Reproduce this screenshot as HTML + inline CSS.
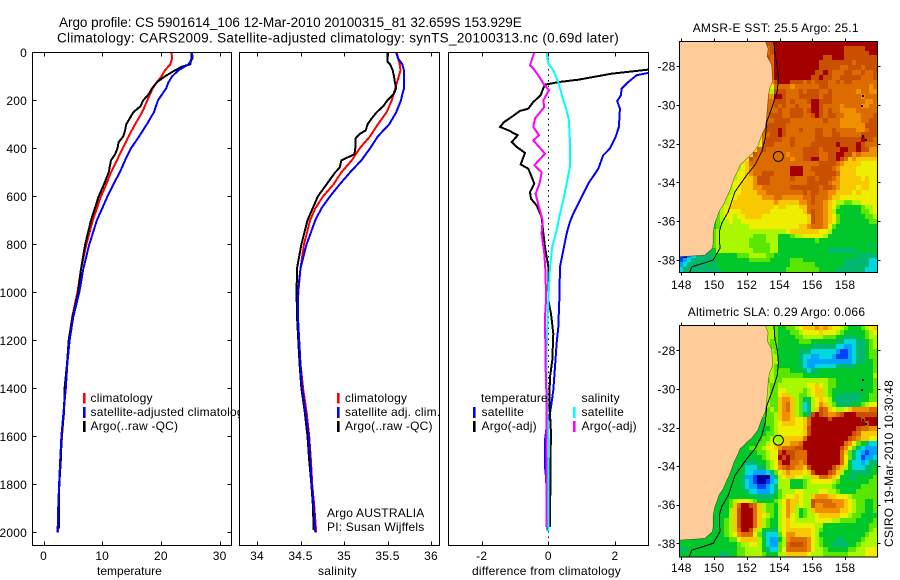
<!DOCTYPE html>
<html>
<head>
<meta charset="utf-8">
<title>Argo profile</title>
<style>
html,body{margin:0;padding:0;background:#fff;width:900px;height:580px;overflow:hidden}
svg{display:block}
text{font-family:"Liberation Sans",sans-serif;fill:#000;font-size:12px;letter-spacing:.2px}
.title{font-size:13.5px}
.maptitle{font-size:12px}
.lab{font-size:12px}
.frame{fill:none;stroke:#000;stroke-width:1;shape-rendering:crispEdges}
.tick{stroke:#000;stroke-width:1;shape-rendering:crispEdges}
.line{fill:none;shape-rendering:crispEdges;stroke-linejoin:miter}
</style>
</head>
<body>
<svg id="chart" xmlns="http://www.w3.org/2000/svg" width="900" height="580" viewBox="0 0 900 580">
<rect x="0" y="0" width="900" height="580" fill="#fff"/>
<text class="title" x="59" y="27" textLength="463" lengthAdjust="spacing">Argo profile: CS 5901614_106 12-Mar-2010 20100315_81 32.659S 153.929E</text>
<text class="title" x="57" y="42.5" textLength="562" lengthAdjust="spacing">Climatology: CARS2009. Satellite-adjusted climatology: synTS_20100313.nc (0.69d later)</text>

<g id="tempPanel"></g>
<g id="tempLegend">
<rect x="83" y="393" width="2.6" height="10.5" fill="#f00"/>
<rect x="83" y="407" width="2.6" height="11" fill="#00f"/>
<rect x="83" y="421" width="2.6" height="11" fill="#000"/>
<text x="90.5" y="402">climatology</text>
<text x="90.5" y="416">satellite-adjusted climatology</text>
<text x="90.5" y="430">Argo(..raw -QC)</text>
</g>

<rect x="239" y="50" width="203" height="500" fill="#fff"/>
<g id="salPanel"></g>
<g id="salLegend">
<rect x="337" y="393" width="2.6" height="10.5" fill="#f00"/>
<rect x="337" y="407" width="2.6" height="11" fill="#00f"/>
<rect x="337" y="421" width="2.6" height="11" fill="#000"/>
<text x="345" y="402">climatology</text>
<text x="345" y="416">satellite adj. clim.</text>
<text x="345" y="430">Argo(..raw -QC)</text>
<text x="327" y="517">Argo AUSTRALIA</text>
<text x="327" y="531">PI: Susan Wijffels</text>
</g>

<g id="diffPanel"></g>
<g id="diffLegend">
<text x="481" y="402">temperature</text>
<rect x="473" y="407" width="2.6" height="11" fill="#00f"/>
<rect x="473" y="421" width="2.6" height="11" fill="#000"/>
<text x="481.5" y="416">satellite</text>
<text x="481.5" y="430">Argo(-adj)</text>
<text x="581.5" y="402">salinity</text>
<rect x="573" y="407" width="2.6" height="11" fill="#0ff"/>
<rect x="573" y="421" width="2.6" height="11" fill="#f0f"/>
<text x="581.5" y="416">satellite</text>
<text x="581.5" y="430">Argo(-adj)</text>
</g>

<text x="97" y="575" class="lab" textLength="65">temperature</text>
<text x="318" y="575" class="lab" textLength="39">salinity</text>
<text x="472" y="575" class="lab" textLength="149">difference from climatology</text>

<g id="sstMap"></g>
<g id="slaMap"></g>
<text class="maptitle" x="692.7" y="32" textLength="166">AMSR-E SST: 25.5 Argo: 25.1</text>
<text class="maptitle" x="687.7" y="316" textLength="177.5">Altimetric SLA: 0.29 Argo: 0.066</text>
<text x="0" y="0" transform="translate(893,547) rotate(-90)" textLength="167">CSIRO 19-Mar-2010 10:30:48</text>
</svg>

<script>
// ---- profile axis ticks ----
var depthTicks = [0, 200, 400, 600, 800, 1000, 1200, 1400, 1600, 1800, 2000];
var tempTicks = [0, 10, 20, 30];
var salTicks = [34, 34.5, 35, 35.5, 36];
var salTickLabels = ['34', '34.5', '35', '35.5', '36'];
var diffTicks = [-2, 0, 2];

// ---- temperature profiles ----
var tempClimDepth = [0,25,50,75,100,125,150,200,250,300,350,400,450,500,550,600,700,800,900,1000,1100,1200,1300,1400,1500,1600,1700,1800,1900,2000];
var tempClimValues = [21.8,21.9,21.6,20.7,20.1,19.3,18.6,17.7,16.8,15.6,14.5,13.5,12.5,11.5,10.7,9.8,8.4,7.3,6.4,5.8,4.9,4.3,4.0,3.75,3.45,3.15,2.9,2.7,2.55,2.5];
var tempSatDepth = [0,25,50,75,100,125,150,200,250,300,350,400,450,500,550,600,700,800,900,1000,1100,1200,1300,1400,1500,1600,1700,1800,1900,2000];
var tempSatValues = [25.3,25.4,24.7,23.0,21.9,21.3,20.9,19.5,18.8,17.6,16.3,14.9,13.9,13.0,11.9,10.9,9.1,7.8,6.8,6.1,5.1,4.45,4.05,3.8,3.4,3.05,2.85,2.65,2.5,2.4];
var tempArgoDepth = [0,25,50,60,75,100,125,150,175,200,225,250,300,325,350,375,400,425,450,500,550,600,700,800,900,1000,1100,1200,1300,1400,1500,1600,1700,1800,1900,1985];
var tempArgoValues = [25.2,25.2,25.0,23.6,22.4,20.7,19.3,18.5,17.9,17.0,16.5,15.3,14.1,13.9,13.6,12.8,12.6,12.2,11.5,11.1,10.3,9.4,8.1,7.1,6.4,5.9,5.0,4.3,4.0,3.6,3.5,3.1,2.95,2.7,2.6,2.6];

// ---- salinity profiles ----
var salClimDepth = [0,50,75,100,150,200,250,300,350,400,450,500,550,600,650,700,800,900,1000,1100,1200,1300,1400,1500,1600,1700,1800,1900,2000];
var salClimValues = [35.605,35.64,35.65,35.63,35.59,35.55,35.49,35.39,35.30,35.18,35.09,34.97,34.88,34.76,34.67,34.61,34.54,34.50,34.475,34.47,34.48,34.50,34.53,34.57,34.60,34.62,34.635,34.66,34.68];
var salSatDepth = [0,25,50,75,100,150,175,200,250,300,350,400,450,500,550,600,650,700,800,900,1000,1100,1200,1300,1400,1500,1600,1700,1800,1900,2000];
var salSatValues = [35.60,35.62,35.67,35.69,35.69,35.69,35.67,35.655,35.60,35.52,35.39,35.30,35.20,35.07,34.95,34.84,34.74,34.67,34.57,34.50,34.47,34.47,34.485,34.50,34.52,34.56,34.595,34.615,34.63,34.655,34.67];
var salArgoDepth = [0,25,40,50,75,100,125,150,175,200,225,250,275,300,325,340,360,400,425,450,480,500,550,600,650,700,800,900,1000,1100,1200,1300,1400,1500,1600,1700,1800,1900,1990];
var salArgoValues = [35.50,35.50,35.50,35.53,35.56,35.575,35.585,35.60,35.57,35.50,35.45,35.375,35.32,35.27,35.25,35.18,35.13,35.13,35.12,34.97,34.95,34.90,34.80,34.70,34.64,34.58,34.51,34.46,34.455,34.46,34.475,34.49,34.51,34.55,34.58,34.60,34.625,34.645,34.65];

// ---- differences from climatology ----
var diffTempSatDepth = [0,50,86,96,124,151,179,203,235,311,353,401,429,485,547,603,672,707,756,825,894,1033,1144,1214,1311,1408,1478,1519,1560,1617,1728,1769,1900,1992];
var diffTempSatValues = [3.5,3.2,3.0,2.65,2.4,2.2,2.18,2.07,2.15,2.12,2.02,1.85,1.65,1.5,1.2,1.0,0.75,0.65,0.55,0.45,0.35,0.33,0.3,0.25,0.2,0.15,0.08,0.03,-0.05,-0.1,-0.1,-0.07,-0.03,-0.02];
var diffTempArgoDepth = [0,50,72,89,114,124,135,150,179,207,235,244,269,290,311,325,346,374,394,419,467,485,512,547,582,610,638,686,728,811,894,1033,1089,1172,1283,1352,1450,1589,1728,1825,1978];
var diffTempArgoValues = [3.4,3.3,3.0,1.9,0.9,0.3,-0.1,-0.15,-0.23,-0.45,-0.6,-0.85,-1.1,-1.32,-1.45,-1.2,-0.92,-1.1,-0.95,-0.7,-0.83,-0.6,-0.52,-0.42,-0.55,-0.52,-0.35,-0.2,-0.17,-0.1,0,0,0.08,0.15,0.12,0.05,0.03,0.08,0.06,0.06,0.05];
var diffSalSatDepth = [0,47,75,124,186,242,283,367,478,547,617,672,742,811,894,1033,1103,1242,1380,1519,1630,1797,1997];
var diffSalSatValues = [-0.05,0,0.15,0.3,0.42,0.55,0.62,0.65,0.65,0.55,0.45,0.35,0.25,0.12,0.05,0,-0.02,-0.05,-0.05,-0.02,0.02,0,0];
var diffSalArgoDepth = [0,54,68,96,130,158,200,228,276,311,346,367,422,471,499,540,589,644,700,756,839,922,1033,1103,1311,1450,1617,1853,1978];
var diffSalArgoValues = [-0.42,-0.55,-0.45,-0.3,-0.15,0.02,-0.15,-0.12,-0.4,-0.45,-0.28,-0.45,-0.1,-0.42,-0.2,-0.25,-0.38,-0.28,-0.17,-0.2,-0.12,-0.08,-0.07,-0.1,-0.08,-0.05,-0.05,-0.05,-0.05];

// ---- map axes ----
var lonTicks = [148, 150, 152, 154, 156, 158];
var latTicks = [-28, -30, -32, -34, -36, -38];

// ---- coast, 200 m isobath, islands (lon / lat) ----
var coastLon = [153.15,153.3,153.25,153.52,153.58,153.42,153.32,153.28,153.22,153.18,153.11,152.95,152.81,152.7,152.5,152.3,152.0,151.8,151.59,151.45,151.22,151.1,150.93,150.75,150.57,150.3,150.2,150.05,149.95,149.95,149.9,149.45,148.9,147.92];
var coastLat = [-26.75,-27.1,-27.5,-27.95,-28.81,-29.1,-29.49,-30.0,-30.53,-30.9,-31.21,-31.5,-31.81,-32.1,-32.33,-32.55,-32.76,-32.95,-33.1,-33.4,-33.79,-34.1,-34.48,-34.8,-35.16,-35.5,-35.77,-36.1,-36.54,-37.1,-37.4,-37.74,-37.78,-37.83];
var isobathLon = [153.66,153.72,153.86,153.93,153.86,153.52,153.22,153.13,152.91,152.5,152.0,151.28,150.87,150.47,150.32,150.36,149.95,149.34,148.64,148.49];
var isobathLat = [-26.75,-27.43,-27.95,-28.63,-29.32,-30.18,-30.87,-31.73,-32.42,-33.1,-33.62,-34.48,-35.51,-36.11,-36.54,-37.4,-38,-38.17,-38.35,-38.69];
var islandLon = [159.02,159.0,159.02,159.22];
var islandLat = [-29.49,-30.0,-31.56,-31.76];
var argoLon = 153.929;
var argoLat = -32.659;
var argoSstLevel = 11;
var argoSlaLevel = 6.5;

// ---- SST field: 48 rows of 48 base-14 colour-level values ("." = under land) ----
var sstRows = [
"........ ........ .....ccd dddddddd dddddddd dddddddd",
"........ ........ .....bcd dddddddd dddddddd cccccddd",
"........ ........ .....bcd dddddddd dddddddd ccccccdd",
"........ ........ .....cbd dddddddd dddccddd cccccccc",
"........ ........ ......bd dddddddd ddcccccc ccbccccc",
"........ ........ ......bd dddddddd ddcccccb bcccbccc",
"........ ........ ......bd dddddddd dccdcbbb ccbbcbbc",
"........ ........ ......bd dddddddd ccdccbbc ccccbbbc",
"........ ........ ......ac dddcccbc bcccbbcb ccbbbbbb",
"........ ........ .....98b bbbabbbb bbccbbbb bbbbbbab",
"........ ........ .....97c ccbbbcbc ccbbcbbb bbbabbaa",
"........ ........ .....aad dcbbbccc ccbccbbb bbbbabbb",
"........ ........ .....bbc ccbcbbbc ddcccbbb bbbbbaab",
"........ ........ ....bbbc bcbbcbbb ddcbbbba bbbbaabb",
"........ ........ ....cbbb cbbcccbc ddcbcbba aaabbbbb",
"........ ........ ....abcc cbbcccbb cdcbccbb aaaabbbc",
"........ ........ ....bbbc cccbbbbb bbbcbbba aaaabbcc",
"........ ........ ....bccc ccbbbbbb bbbbbbba aaaaaccc",
"........ ........ ...8bccc dcbbbcbb bccbbcbb bbbaabcc",
"........ ........ ..78bbcc dcbbbbbb bccbbccb bbbbcccc",
"........ ........ ..88bccc cbbcbbbb bccccccc ccccdccb",
"........ ........ .788cccb bbbcbbbb ccccccdc cccdcbbb",
"........ ........ 678bcbbb bbbbbbcc ccbccccd dccdccaa",
"........ ......67 88cbbbbb bbabbbcc ccbbccdd ccabaaaa",
"........ ......78 8cbbbbbb bbbabbcc ddbbccdc b9a99999",
"........ ......78 9bbbbbbb bbbbbbbb bbccccba 99998888",
"........ .....678 9abbbbbb bbbdddbb cccccba9 99988888",
"........ .....788 9abbcccb bbbdddbb bcccccb9 99988888",
"........ ....6788 99acccbb bbbcbbbc cbcccba9 99998988",
"........ ....7889 99acccbb bbbbbbbc ccccbaa9 99999988",
"........ ...67889 99aabbbb bbbccccc ccbccba9 99989988",
"........ ...67889 999aabbb bbbbbbcb ccbbaa99 99898888",
"........ ..678899 9999aaab baaaaabb cbbba998 88888888",
"........ ..678999 9999999a 99999aab cbba9877 66778888",
"........ .6789999 99999998 9988899b bbba9865 55556778",
"........ .6788889 99999988 8888889b cbba9755 55556678",
"........ 56788788 99998888 88888889 cbba9865 55555667",
"........ 56778778 88888888 88888889 cbba9865 55555566",
"........ 56777777 78888888 8888899a bbba8655 55555555",
".......5 67777777 77777777 77899999 99887555 55555555",
".......5 67777777 77666777 55567788 88875555 55555555",
".......5 67777777 76666777 55555555 56555555 55555555",
".......5 67777777 76666677 55555555 55555555 55555545",
"........ 57777777 77666677 55555555 55554444 44455555",
"10234444 55555566 67777665 55555555 55555555 55544444",
"12344444 45555555 56666655 55566655 55555555 44444433",
"23444445 45555555 55555555 55566666 65555555 44444433",
"34444444 44555555 55555555 55666666 66555544 44444333"
];

// ---- sea-level-anomaly field: 48 rows of 48 base-14 colour-level values ("." = under land) ----
var slaRows = [
"........ ........ .....776 55667899 9a9a9887 65556789",
"........ ........ .....776 55566788 88988876 55555678",
"........ ........ .....776 55556677 77766655 44455677",
"........ ........ .....766 55555666 55555544 33344567",
"........ ........ .....766 55555555 44444433 22344567",
"........ ........ .....776 55555444 33333321 12344566",
"........ ........ ......77 55555433 22333211 12344566",
"........ ........ ......77 55555432 22222222 22344556",
"........ ........ ......76 55555432 23333344 44455556",
"........ ........ ......76 66655543 44555555 55555556",
"........ ........ ......76 66666655 55555555 55555557",
"........ ........ .....676 67777777 77776655 55555556",
"........ ........ .....766 77777778 89876655 55555556",
"........ ........ .....766 88777767 89976555 55555556",
"........ ........ .....766 89977667 89976544 44445566",
"........ ........ .....766 9aa97645 78987544 44445566",
"........ ........ .....766 9ab97634 78a97644 44556788",
"........ ........ .....676 9ab97634 79cb9877 89aaaabb",
"........ ........ .....667 9aa97654 cdcbaabc dddccccc",
"........ ........ ....5667 9aa9889b ddddcddd ddddcddd",
"........ ........ ....5667 8999889b dddddddd dddddcdd",
"........ ........ ...55567 8888889c dddddddd dddcbbaa",
"........ ........ ...55667 8888889c dddddddd ddcb9999",
"........ ........ ..556678 999999bd dddddddd dcba9988",
"........ ........ ..566789 999aabdd dddddddd ba865433",
"........ .......5 56667889 abbbccdd dddddddc a8643222",
"........ ......55 55566788 cdccbbbd dddddddb 96432122",
"........ ......55 55556788 dcdcbbbd dddddddb 86431223",
"........ .....555 44455678 bddbbabd dddddddb 85332344",
"........ .....555 33344678 abcbaa9c dddddca9 75333445",
"........ .....555 33222346 89a99989 cdddcb97 55444455",
"........ ....5554 22100024 78998877 99bba985 54455556",
"........ ....5554 32100123 77755567 88888765 55555566",
"........ ...55554 32211234 77755567 77777655 55556666",
"........ ...55555 43322234 67778877 77887765 55566666",
"........ ..555555 55444445 67889877 9aaa9988 87666666",
"........ .5556788 87655556 78a99877 cbbbbaaa 98766556",
"........ .55569bd dcb97665 78a97877 caabbbaa 98766556",
"........ .55579cd ddb97665 78a97567 9aaaaaa9 98766556",
"........ 555579cd ddb98765 78a87567 78999998 87665555",
"........ 555679cd ddb97655 78987777 78888776 66655556",
"........ 555679cd ddb97655 78988888 87755555 55555566",
"........ 555679bd dc975544 78999999 87655555 55555567",
"........ 555678ab bb864333 68aa9999 87555555 55555677",
"55555555 55556689 99975322 57abbbba 87655544 55556777",
"55555555 55555567 78875322 67bcccba 87655444 45567777",
"44555555 55555566 77775433 68bbbbba 87765555 56677888",
"55555555 55445566 77776555 77999998 77766666 67777888"
];

var levelColors = ['#00009a','#0040ff','#00a4ff','#00d8dc','#00b96e','#00c82a','#5ae600','#aaf800','#eeee00','#f8c800','#f09000','#dc6c00','#c85000','#a50000'];

var SVGNS = 'http://www.w3.org/2000/svg';
function mk(parent, tag, attrs) {
  var el = document.createElementNS(SVGNS, tag);
  for (var k in attrs) el.setAttribute(k, attrs[k]);
  parent.appendChild(el);
  return el;
}

// ---- profile panels: axis functions ----
var TOP = 52.5, BOT = 545.5;
function yDepth(d) { return 52.3 + d * 0.24; }
function xTemp(v) { return 43.5 + v * 5.87; }
function xSal(v) { return 257 + (v - 34) * 87; }
function xDiff(v) { return 548.3 + v * 33.3; }

function polyline(group, depth, values, xFn, color, width, clipId, name) {
  var pts = [];
  for (var i = 0; i < depth.length; i++) pts.push(xFn(values[i]).toFixed(1) + ',' + yDepth(depth[i]).toFixed(1));
  var el = mk(group, 'polyline', {'class': 'line', points: pts.join(' '), stroke: color, 'stroke-width': width, 'clip-path': 'url(#' + clipId + ')'});
  
  
}

function panelFrame(group, left, right, clipId, ticks, labels, xFn) {
  var defs = mk(group, 'defs', {});
  var cp = mk(defs, 'clipPath', {id: clipId});
  mk(cp, 'rect', {x: left, y: TOP, width: right - left, height: BOT - TOP});
  for (var i = 0; i < ticks.length; i++) {
    var x = Math.round(xFn(ticks[i])) + 0.5;
    var t1 = mk(group, 'line', {'class': 'tick', x1: x, x2: x, y1: TOP, y2: TOP + 4});
    
    
    var t2 = mk(group, 'line', {'class': 'tick', x1: x, x2: x, y1: BOT - 4, y2: BOT});
    
    
    var lab = mk(group, 'text', {x: xFn(ticks[i]), y: 560, 'text-anchor': 'middle'});
    lab.textContent = labels[i];
    
    
  }
}

function drawFrameBox(group, left, right) {
  var f = mk(group, 'rect', {'class': 'frame', x: left, y: TOP, width: right - left, height: BOT - TOP});
  
  
}

// temperature panel
(function () {
  var g = document.getElementById('tempPanel');
  panelFrame(g, 32.5, 231.5, 'clipT', tempTicks, tempTicks.map(String), xTemp);
  for (var i = 0; i < depthTicks.length; i++) {
    var y = Math.round(yDepth(depthTicks[i])) + 0.5;
    var a = mk(g, 'line', {'class': 'tick', x1: 32.5, x2: 36.5, y1: y, y2: y});
    
    
    var b = mk(g, 'line', {'class': 'tick', x1: 227.5, x2: 231.5, y1: y, y2: y});
    
    
    var t = mk(g, 'text', {x: 27, y: yDepth(depthTicks[i]) + 4.5, 'text-anchor': 'end'});
    t.textContent = String(depthTicks[i]);
    
    
  }
  polyline(g, tempClimDepth, tempClimValues, xTemp, '#f00', 2, 'clipT', 'series-climatology');
  polyline(g, tempArgoDepth, tempArgoValues, xTemp, '#000', 2, 'clipT', 'series-argo');
  polyline(g, tempSatDepth, tempSatValues, xTemp, '#00f', 2, 'clipT', 'series-satellite-adjusted');
  drawFrameBox(g, 32.5, 231.5);
})();

// salinity panel
(function () {
  var g = document.getElementById('salPanel');
  panelFrame(g, 239.5, 439.5, 'clipS', salTicks, salTickLabels, xSal);
  polyline(g, salClimDepth, salClimValues, xSal, '#f00', 2, 'clipS', 'series-climatology');
  polyline(g, salArgoDepth, salArgoValues, xSal, '#000', 2, 'clipS', 'series-argo');
  polyline(g, salSatDepth, salSatValues, xSal, '#00f', 2, 'clipS', 'series-satellite-adjusted');
  drawFrameBox(g, 239.5, 439.5);
})();

// difference panel
(function () {
  var g = document.getElementById('diffPanel');
  panelFrame(g, 448.5, 648.5, 'clipD', diffTicks, diffTicks.map(String), xDiff);
  var zero = mk(g, 'line', {x1: xDiff(0), x2: xDiff(0), y1: TOP, y2: BOT, stroke: '#000', 'stroke-width': 1, 'stroke-dasharray': '1.5 4', 'shape-rendering': 'crispEdges'});
  
  
  polyline(g, diffTempSatDepth, diffTempSatValues, xDiff, '#00f', 2, 'clipD', 'series-temperature-satellite');
  polyline(g, diffTempArgoDepth, diffTempArgoValues, xDiff, '#000', 2, 'clipD', 'series-temperature-argo');
  polyline(g, diffSalSatDepth, diffSalSatValues, xDiff, '#0ff', 2, 'clipD', 'series-salinity-satellite');
  polyline(g, diffSalArgoDepth, diffSalArgoValues, xDiff, '#f0f', 2, 'clipD', 'series-salinity-argo');
  drawFrameBox(g, 448.5, 648.5);
})();

// ---- maps ----
function drawMap(groupId, rows, top, bottom, lat28, latScale, clipId, argoLevel, labelY, namePrefix) {
  var g = document.getElementById(groupId);
  var left = 679.5, right = 877.5;
  function mx(lon) { return 681.3 + (lon - 148) * 16.37; }
  function my(lat) { return lat28 + (-28 - lat) * latScale; }
  var defs = mk(g, 'defs', {});
  var cp = mk(defs, 'clipPath', {id: clipId});
  mk(cp, 'rect', {x: left, y: top, width: right - left, height: bottom - top});
  var cells = mk(g, 'g', {'clip-path': 'url(#' + clipId + ')'});
  
  
  var cw = (right - left) / 48, ch = (bottom - top) / 48;
  for (var r = 0; r < rows.length; r++) {
    var row = rows[r].replace(/ /g, '');
    var firstWet = row.replace(/\./g, '').charAt(0);
    for (var c = 0; c < 48; c++) {
      var chr = row.charAt(c);
      if (!chr) chr = row.charAt(row.length - 1);
      if (chr === '.') chr = firstWet;
      var level = parseInt(chr, 14);
      var x0 = Math.floor(left + c * cw), x1 = Math.ceil(left + (c + 1) * cw);
      var y0 = Math.floor(top + r * ch), y1 = Math.ceil(top + (r + 1) * ch);
      var cell = mk(cells, 'rect', {x: x0, y: y0, width: x1 - x0, height: y1 - y0, fill: levelColors[level], 'shape-rendering': 'crispEdges'});
      
      
    }
  }
  var landPts = [];
  for (var i = 0; i < coastLon.length; i++) landPts.push(mx(coastLon[i]).toFixed(1) + ',' + my(coastLat[i]).toFixed(1));
  landPts.push(left + ',' + my(-37.83).toFixed(1));
  landPts.push(left + ',' + top);
  landPts.push(mx(coastLon[0]).toFixed(1) + ',' + top);
  var land = mk(cells, 'polygon', {points: landPts.join(' '), fill: '#ffcc99', 'shape-rendering': 'crispEdges'});
  
  
  var coast = mk(cells, 'polyline', {points: landPts.slice(0, coastLon.length).join(' '), fill: 'none', stroke: '#000', 'stroke-width': 0.6, 'stroke-opacity': 0.55});
  
  
  var isoPts = [];
  for (var j = 0; j < isobathLon.length; j++) isoPts.push(mx(isobathLon[j]).toFixed(1) + ',' + my(isobathLat[j]).toFixed(1));
  var iso = mk(cells, 'polyline', {points: isoPts.join(' '), fill: 'none', stroke: '#000', 'stroke-width': 1, 'shape-rendering': 'crispEdges'});
  
  
  for (var k = 0; k < islandLon.length; k++) {
    var isl = mk(cells, 'rect', {x: Math.round(mx(islandLon[k])), y: Math.round(my(islandLat[k])), width: 2, height: 2, fill: '#000'});
    
    
  }
  var marker = mk(g, 'circle', {cx: mx(argoLon), cy: my(argoLat), r: 5, fill: levelColors[Math.round(argoLevel)], stroke: '#000', 'stroke-width': 1});
  
  
  var fr = mk(g, 'rect', {'class': 'frame', x: left, y: top, width: right - left, height: bottom - top});
  
  
  for (var a = 0; a < lonTicks.length; a++) {
    var tx = Math.round(mx(lonTicks[a])) + 0.5;
    var tt = mk(g, 'line', {'class': 'tick', x1: tx, x2: tx, y1: top - 3, y2: top});
    
    
    var tb = mk(g, 'line', {'class': 'tick', x1: tx, x2: tx, y1: bottom, y2: bottom + 3});
    
    
    var lonLab = mk(g, 'text', {x: mx(lonTicks[a]), y: labelY, 'text-anchor': 'middle'});
    lonLab.textContent = String(lonTicks[a]);
    
    
  }
  for (var b = 0; b < latTicks.length; b++) {
    var ty = Math.round(my(latTicks[b])) + 0.5;
    var tl = mk(g, 'line', {'class': 'tick', x1: left - 3, x2: left, y1: ty, y2: ty});
    
    
    var tr = mk(g, 'line', {'class': 'tick', x1: right, x2: right + 3, y1: ty, y2: ty});
    
    
    var latLab = mk(g, 'text', {x: 675.5, y: my(latTicks[b]) + 4.5, 'text-anchor': 'end'});
    latLab.textContent = String(latTicks[b]);
    
    
  }
}
drawMap('sstMap', sstRows, 41.5, 272.5, 66, 19.4, 'clipSst', argoSstLevel, 289, 'sst');
drawMap('slaMap', slaRows, 325.5, 557, 350.3, 19.3, 'clipSla', argoSlaLevel, 572, 'sla');
</script>
</body>
</html>
